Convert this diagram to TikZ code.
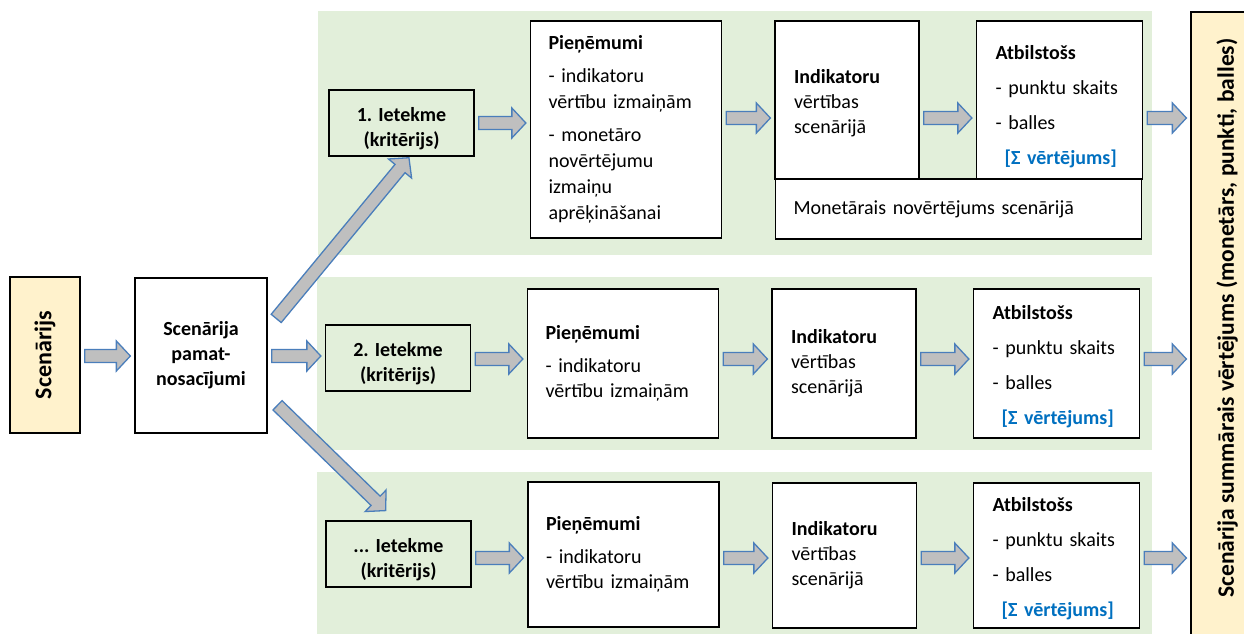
\documentclass[tikz,border=0pt]{standalone}
\usepackage{fontspec}
\setmainfont{Carlito}
\usetikzlibrary{calc}
\definecolor{bandgreen}{HTML}{E2EFDA}
\definecolor{scenyellow}{HTML}{FFF2CC}
\definecolor{arrowgray}{HTML}{BFBFBF}
\definecolor{arrowblue}{HTML}{4A7EBB}
\definecolor{sigmablue}{HTML}{0070C0}
\tikzset{
  box/.style={draw=black, line width=1.3pt, fill=white, inner ysep=0pt, align=left,
              font=\fontsize{20}{25}\selectfont},
  cbox/.style={box, align=center, font=\fontsize{20}{25}\selectfont\bfseries},
  ietbox/.style={cbox, fill=bandgreen, minimum width=145pt, minimum height=66pt},
  pbox/.style={box, text width=155pt, inner xsep=18pt},
  ibox/.style={box, text width=106pt, inner xsep=19pt},
  abox/.style={box, text width=128pt, inner xsep=19pt},
  blockarrow/.style={fill=arrowgray, draw=arrowblue, line width=1.3pt, line join=miter},
  band/.style={fill=bandgreen},
}
\newcommand\barrow[2]{%
  \path (#1) coordinate (ba-a) (#2) coordinate (ba-b);
  \path ($(ba-a)!4pt!(ba-b)$) coordinate (ba-s)
        ($(ba-b)!4pt!(ba-a)$) coordinate (ba-e);
  \path ($(ba-e)!14pt!(ba-s)$) coordinate (ba-h);
  \draw[blockarrow] ($(ba-s)!6.5pt!90:(ba-e)$) -- ($(ba-h)!6.5pt!-90:(ba-s)$)
    -- ($(ba-h)!15pt!-90:(ba-s)$) -- (ba-e) -- ($(ba-h)!15pt!90:(ba-s)$)
    -- ($(ba-h)!6.5pt!90:(ba-s)$) -- ($(ba-s)!6.5pt!-90:(ba-e)$) -- cycle;
}
\newcommand\atbtext[1]{\rule{0pt}{#1}\textbf{Atbilstošs}\\[10pt]- punktu skaits\\[10pt]- balles\\[10pt]\hspace*{9pt}\textcolor{sigmablue}{\textbf{[Σ vērtējums]}}}
\begin{document}
\begin{tikzpicture}[x=1pt, y=-1pt]
\useasboundingbox (0,0) rectangle (1244,633);
\fill[white] (0,0) rectangle (1244,633);
% bands
\fill[band] (318,11) rectangle (1152,255);
\fill[band] (317,277) rectangle (1152,450);
\fill[band] (317,472) rectangle (1152,640);

% left
\node[box, fill=scenyellow, minimum width=70pt, minimum height=156pt] (scen) at (45,355) {};
\node[rotate=90, font=\fontsize{24}{28}\selectfont\bfseries] at (scen.center) {Scenārijs};
\node[cbox, minimum width=132pt, minimum height=155pt] (pamat) at (201,355.5) {Scenārija\\pamat-\\nosacījumi};

% ietekme
\node[ietbox] (i1) at (401.5,123) {\rule{0pt}{25pt}1. Ietekme\\(kritērijs)};
\node[ietbox] (i2) at (398,358) {\rule{0pt}{25pt}2. Ietekme\\(kritērijs)};
\node[ietbox] (i3) at (398.5,554) {\rule{0pt}{25pt}... Ietekme\\(kritērijs)};

% row 1
\node[pbox, minimum height=217pt] (p1) at (626,129.5) {\textbf{Pieņēmumi}\\[8pt]- indikatoru\\[1pt]vērtību izmaiņām\\[8pt]- monetāro\\[1pt]novērtējumu\\[1pt]izmaiņu\\[1pt]aprēķināšanai};
\node[ibox, minimum height=158pt] (ind1) at (847,100) {\rule{0pt}{21pt}\textbf{Indikatoru}\\vērtības\\scenārijā};
\node[abox, minimum height=158pt] (a1) at (1059.5,100) {\atbtext{27pt}};
\node[box, text width=330pt, inner xsep=18pt, minimum height=60pt] (mon) at (958.5,209) {Monetārais novērtējums scenārijā};

% row 2
\node[pbox, minimum height=149pt] (p2) at (623,363.5) {\textbf{Pieņēmumi}\\[8pt]- indikatoru\\vērtību izmaiņām};
\node[ibox, minimum height=149pt] (ind2) at (844,363.5) {\textbf{Indikatoru}\\vērtības\\scenārijā};
\node[abox, minimum height=149pt] (a2) at (1056.5,363.5) {\atbtext{20pt}};

% row 3
\node[pbox, minimum height=145pt] (p3) at (623.5,554.5) {\textbf{Pieņēmumi}\\[8pt]- indikatoru\\vērtību izmaiņām};
\node[ibox, minimum height=145pt] (ind3) at (844.5,555.5) {\textbf{Indikatoru}\\vērtības\\scenārijā};
\node[abox, minimum height=145pt] (a3) at (1056.5,555.5) {\atbtext{21pt}};

% summary
\node[box, fill=scenyellow, minimum width=69pt, minimum height=640pt] (sum) at (1225.5,332) {};
\node[rotate=90, font=\fontsize{23.5}{28}\selectfont\bfseries] at (1227,318) {Scenārija summārais vērtējums (monetārs, punkti, balles)};

% row levels
\coordinate (y0) at (0,356);
\coordinate (y1a) at (0,123);
\coordinate (y1b) at (0,118);
\coordinate (y2) at (0,359);
\coordinate (y3) at (0,558);

% arrows
\barrow{scen.east |- y0}{pamat.west |- y0}
\barrow{pamat.east |- y0}{i2.west |- y0}
\barrow{i1.east |- y1a}{p1.west |- y1a}
\barrow{p1.east |- y1b}{ind1.west |- y1b}
\barrow{ind1.east |- y1b}{a1.west |- y1b}
\barrow{a1.east |- y1b}{sum.west |- y1b}
\barrow{i2.east |- y2}{p2.west |- y2}
\barrow{p2.east |- y2}{ind2.west |- y2}
\barrow{ind2.east |- y2}{a2.west |- y2}
\barrow{a2.east |- y2}{sum.west |- y2}
\barrow{i3.east |- y3}{p3.west |- y3}
\barrow{p3.east |- y3}{ind3.west |- y3}
\barrow{ind3.east |- y3}{a3.west |- y3}
\barrow{a3.east |- y3}{sum.west |- y3}

% diagonal arrows
\coordinate (du-s) at ($(pamat.east)+(6,-34)$);
\coordinate (du-e) at ($(i1.south)+(10,-2)$);
\coordinate (dd-s) at ($(pamat.east)+(7,47)$);
\coordinate (dd-e) at ($(i3.north)+(-10,-7)$);
\barrow{du-s}{du-e}
\barrow{dd-s}{dd-e}
\end{tikzpicture}
\end{document}
